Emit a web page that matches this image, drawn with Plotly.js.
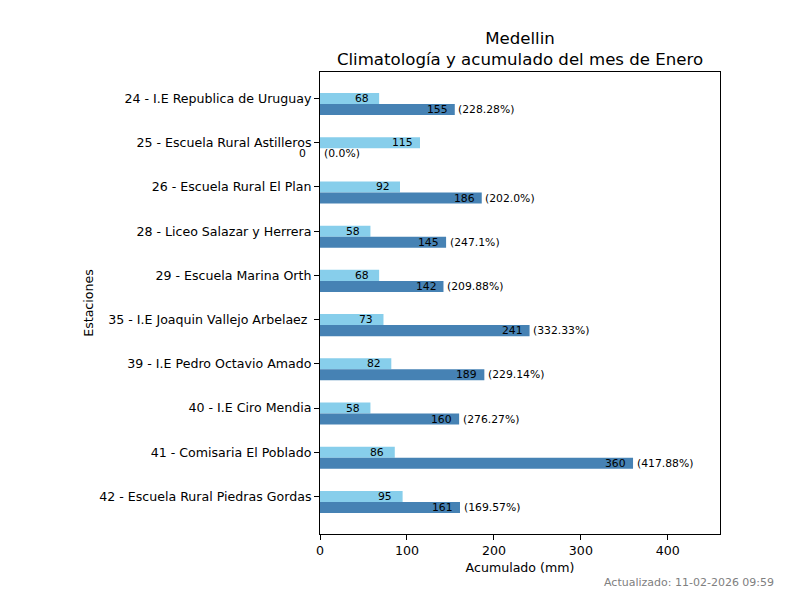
<!DOCTYPE html>
<html>
<head>
<meta charset="utf-8">
<script src="https://cdn.plot.ly/plotly-3.0.1.min.js"></script>
<style>html,body{margin:0;padding:0;background:#fff}#chart{width:800px;height:600px}</style>
</head>
<body>
<div id="chart"></div>
<script>
const stations = [
  "24 - I.E Republica de Uruguay",
  "25 - Escuela Rural Astilleros",
  "26 - Escuela Rural El Plan",
  "28 - Liceo Salazar y Herrera",
  "29 - Escuela Marina Orth",
  "35 - I.E Joaquin Vallejo Arbelaez ",
  "39 - I.E Pedro Octavio Amado",
  "40 - I.E Ciro Mendia",
  "41 - Comisaria El Poblado",
  "42 - Escuela Rural Piedras Gordas"
];
const climatologia = [68, 115, 92, 58, 68, 73, 82, 58, 86, 95];
const acumulado = [155, 0, 186, 145, 142, 241, 189, 160, 360, 161];
const porcentaje = ["228.28", "0.0", "202.0", "247.1", "209.88", "332.33", "229.14", "276.27", "417.88", "169.57"];
const updated = "Actualizado: 11-02-2026 09:59";

const FONT = "DejaVu Sans, sans-serif";
const BW = 0.25;
const idx = stations.map((_, i) => i);

const traces = [
  {type: "bar", orientation: "h", x: climatologia, y: idx, width: BW,
   marker: {color: "#87CEEB"}, name: "Climatología", hoverinfo: "x"},
  {type: "bar", orientation: "h", x: acumulado, y: idx.map(i => i + BW), width: BW,
   marker: {color: "#4682B4"}, name: "Acumulado", hoverinfo: "x"}
];

const LBL = {family: FONT, size: 10.8, color: "#000"};
const annotations = [];
idx.forEach(i => {
  annotations.push({x: climatologia[i], y: i, xref: "x", yref: "y", xshift: -17.4,
    text: String(Math.round(climatologia[i])), showarrow: false, xanchor: "center", yanchor: "middle", font: LBL});
  annotations.push({x: acumulado[i], y: i + BW, xref: "x", yref: "y", xshift: -17.4,
    text: String(Math.round(acumulado[i])), showarrow: false, xanchor: "center", yanchor: "middle", font: LBL});
  annotations.push({x: acumulado[i], y: i + BW, xref: "x", yref: "y", xshift: 1.5,
    text: "(" + porcentaje[i] + "%)", showarrow: false, xanchor: "left", yanchor: "middle", font: LBL});
});
annotations.push({x: (776 - 320) / 400, y: (534 - 582) / 462, xref: "paper", yref: "paper", text: updated, showarrow: false,
  xanchor: "right", yanchor: "middle", font: {family: FONT, size: 11, color: "#808080"}});

const layout = {
  width: 800, height: 600,
  margin: {l: 320, r: 80, t: 72, b: 66, pad: 0},
  paper_bgcolor: "#fff", plot_bgcolor: "#fff",
  showlegend: false,
  font: {family: FONT, size: 12.6, color: "#000"},
  title: {text: "Medellin<br>Climatología y acumulado del mes de Enero",
    font: {family: FONT, size: 16.6, color: "#000"}, x: 0.65, xanchor: "center", y: 0.927, yanchor: "top"},
  xaxis: {range: [0, 460], tickvals: [0, 100, 200, 300, 400], showgrid: false, zeroline: false,
    showline: true, linecolor: "#000", linewidth: 1, mirror: true,
    ticks: "outside", ticklen: 5, tickcolor: "#000",
    tickfont: {family: FONT, size: 12.6},
    title: {text: "Acumulado (mm)", font: {family: FONT, size: 12.6}, standoff: 6}},
  yaxis: {range: [9.85, -0.6], tickvals: idx, ticktext: stations, showgrid: false, zeroline: false,
    showline: true, linecolor: "#000", linewidth: 1, mirror: true,
    ticks: "outside", ticklen: 5, tickcolor: "#000",
    tickfont: {family: FONT, size: 12.6},
    title: {text: "Estaciones", font: {family: FONT, size: 12.6}, standoff: 2}},
  annotations: annotations
};

Plotly.newPlot("chart", traces, layout, {displayModeBar: false, staticPlot: true});
</script>
</body>
</html>
